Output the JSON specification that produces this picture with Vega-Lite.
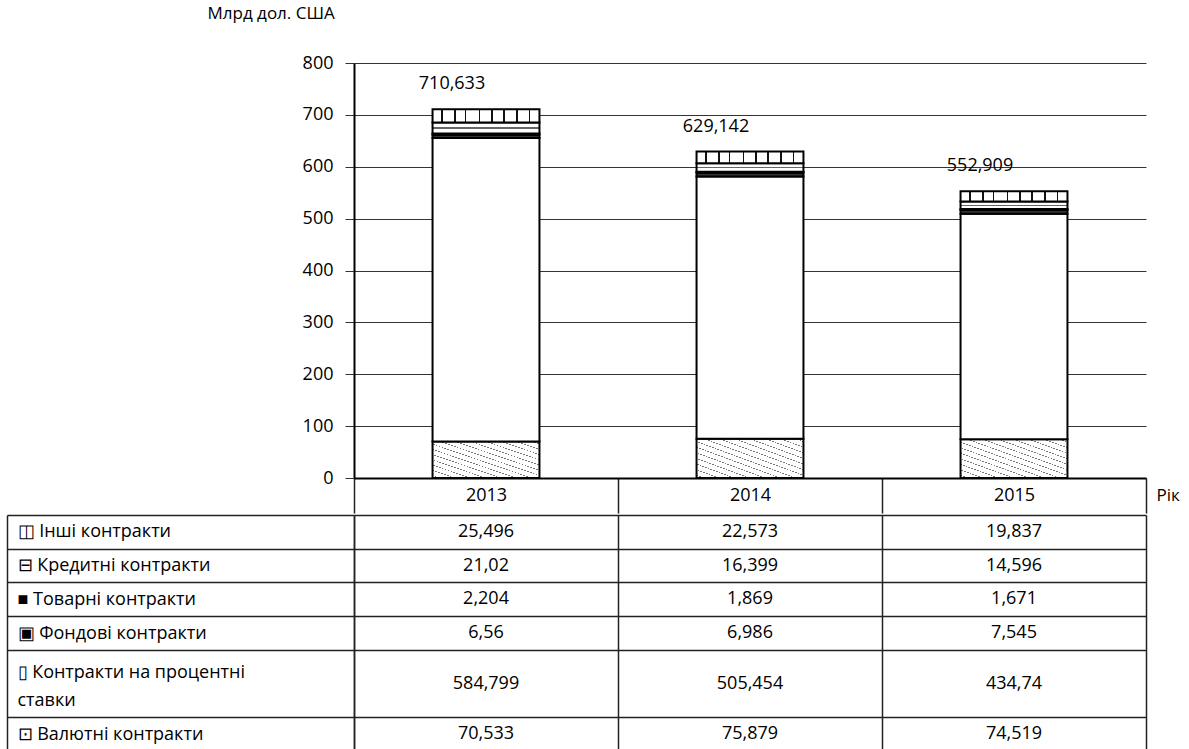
{
  "$schema": "https://vega.github.io/schema/vega-lite/v6.json",
  "padding": {"left": 6, "top": 4, "right": 0, "bottom": 0},
  "spacing": 0,
  "datasets": {
    "rows": [
      {"year": "2013", "cat": "Валютні контракти", "k": 1, "v": 70.533},
      {"year": "2013", "cat": "Контракти на процентні ставки", "k": 2, "v": 584.799},
      {"year": "2013", "cat": "Фондові контракти", "k": 3, "v": 6.56},
      {"year": "2013", "cat": "Товарні контракти", "k": 4, "v": 2.204},
      {"year": "2013", "cat": "Кредитні контракти", "k": 5, "v": 21.02},
      {"year": "2013", "cat": "Інші контракти", "k": 6, "v": 25.496},
      {"year": "2014", "cat": "Валютні контракти", "k": 1, "v": 75.879},
      {"year": "2014", "cat": "Контракти на процентні ставки", "k": 2, "v": 505.454},
      {"year": "2014", "cat": "Фондові контракти", "k": 3, "v": 6.986},
      {"year": "2014", "cat": "Товарні контракти", "k": 4, "v": 1.869},
      {"year": "2014", "cat": "Кредитні контракти", "k": 5, "v": 16.399},
      {"year": "2014", "cat": "Інші контракти", "k": 6, "v": 22.573},
      {"year": "2015", "cat": "Валютні контракти", "k": 1, "v": 74.519},
      {"year": "2015", "cat": "Контракти на процентні ставки", "k": 2, "v": 434.74},
      {"year": "2015", "cat": "Фондові контракти", "k": 3, "v": 7.545},
      {"year": "2015", "cat": "Товарні контракти", "k": 4, "v": 1.671},
      {"year": "2015", "cat": "Кредитні контракти", "k": 5, "v": 14.596},
      {"year": "2015", "cat": "Інші контракти", "k": 6, "v": 19.837}
    ],
    "totals": [
      {"year": "2013", "total": 710.633},
      {"year": "2014", "total": 629.142},
      {"year": "2015", "total": 552.909}
    ]
  },
  "vconcat": [
    {
      "width": 792,
      "height": 415,
      "view": {"stroke": null},
      "layer": [
        {
          "data": {"name": "rows"},
          "mark": {"type": "bar", "width": {"band": 0.405}, "stroke": "#000", "strokeWidth": 2},
          "encoding": {
            "x": {
              "field": "year", "type": "nominal",
              "scale": {"paddingInner": 0, "paddingOuter": 0},
              "axis": {
                "title": "Рік", "titleAngle": 0, "titleX": 802, "titleY": 17,
                "titleAlign": "left", "titleBaseline": "middle",
                "labelAngle": 0, "labelBaseline": "middle", "labelPadding": -18,
                "tickBand": "extent", "tickSize": 35, "tickColor": "#222", "tickWidth": 1.5,
                "domainColor": "#000", "domainWidth": 2, "grid": false
              }
            },
            "y": {
              "field": "v", "type": "quantitative", "stack": "zero",
              "scale": {"domain": [0, 800], "nice": false},
              "axis": {
                "title": "Млрд дол. США", "titleAngle": 0, "titleX": -147, "titleY": -50,
                "titleAlign": "left", "titleBaseline": "middle",
                "values": [0, 100, 200, 300, 400, 500, 600, 700, 800], "format": "d",
                "grid": true, "gridColor": "#333", "gridWidth": 1,
                "tickSize": 9, "tickColor": "#333", "tickWidth": 1, "labelPadding": 12,
                "domainColor": "#000", "domainWidth": 2
              }
            },
            "detail": {"field": "cat"},
            "order": {"field": "k", "type": "quantitative"},
            "fill": {
              "condition": [
                {"test": "datum.k === 1", "value": {
                  "gradient": "linear", "x1": 0, "y1": 1, "x2": 1, "y2": 0,
                  "stops": [
                    {"offset": 0, "color": "#fff"},
                    {"offset": 0.030, "color": "#fff"}, {"offset": 0.030, "color": "#777"}, {"offset": 0.038, "color": "#777"}, {"offset": 0.038, "color": "#fff"},
                    {"offset": 0.101, "color": "#fff"}, {"offset": 0.101, "color": "#777"}, {"offset": 0.109, "color": "#777"}, {"offset": 0.109, "color": "#fff"},
                    {"offset": 0.173, "color": "#fff"}, {"offset": 0.173, "color": "#777"}, {"offset": 0.181, "color": "#777"}, {"offset": 0.181, "color": "#fff"},
                    {"offset": 0.244, "color": "#fff"}, {"offset": 0.244, "color": "#777"}, {"offset": 0.252, "color": "#777"}, {"offset": 0.252, "color": "#fff"},
                    {"offset": 0.316, "color": "#fff"}, {"offset": 0.316, "color": "#777"}, {"offset": 0.324, "color": "#777"}, {"offset": 0.324, "color": "#fff"},
                    {"offset": 0.387, "color": "#fff"}, {"offset": 0.387, "color": "#777"}, {"offset": 0.395, "color": "#777"}, {"offset": 0.395, "color": "#fff"},
                    {"offset": 0.459, "color": "#fff"}, {"offset": 0.459, "color": "#777"}, {"offset": 0.467, "color": "#777"}, {"offset": 0.467, "color": "#fff"},
                    {"offset": 0.530, "color": "#fff"}, {"offset": 0.530, "color": "#777"}, {"offset": 0.538, "color": "#777"}, {"offset": 0.538, "color": "#fff"},
                    {"offset": 0.601, "color": "#fff"}, {"offset": 0.601, "color": "#777"}, {"offset": 0.609, "color": "#777"}, {"offset": 0.609, "color": "#fff"},
                    {"offset": 0.673, "color": "#fff"}, {"offset": 0.673, "color": "#777"}, {"offset": 0.681, "color": "#777"}, {"offset": 0.681, "color": "#fff"},
                    {"offset": 0.744, "color": "#fff"}, {"offset": 0.744, "color": "#777"}, {"offset": 0.752, "color": "#777"}, {"offset": 0.752, "color": "#fff"},
                    {"offset": 0.816, "color": "#fff"}, {"offset": 0.816, "color": "#777"}, {"offset": 0.824, "color": "#777"}, {"offset": 0.824, "color": "#fff"},
                    {"offset": 0.887, "color": "#fff"}, {"offset": 0.887, "color": "#777"}, {"offset": 0.895, "color": "#777"}, {"offset": 0.895, "color": "#fff"},
                    {"offset": 0.959, "color": "#fff"}, {"offset": 0.959, "color": "#777"}, {"offset": 0.967, "color": "#777"}, {"offset": 0.967, "color": "#fff"},
                    {"offset": 1, "color": "#fff"}
                  ]
                }},
                {"test": "datum.k === 3", "value": "#333"},
                {"test": "datum.k === 4", "value": "#000"},
                {"test": "datum.k === 5", "value": {
                  "gradient": "linear", "x1": 0, "y1": 0, "x2": 0, "y2": 1,
                  "stops": [
                    {"offset": 0, "color": "#fff"}, {"offset": 0.42, "color": "#fff"},
                    {"offset": 0.42, "color": "#666"}, {"offset": 0.58, "color": "#666"},
                    {"offset": 0.58, "color": "#fff"}, {"offset": 1, "color": "#fff"}
                  ]
                }},
                {"test": "datum.k === 6", "value": {
                  "gradient": "linear", "x1": 0, "y1": 0, "x2": 1, "y2": 0,
                  "stops": [
                    {"offset": 0, "color": "#fff"},
                    {"offset": 0.08, "color": "#fff"}, {"offset": 0.08, "color": "#111"}, {"offset": 0.095, "color": "#111"}, {"offset": 0.095, "color": "#fff"},
                    {"offset": 0.2, "color": "#fff"}, {"offset": 0.2, "color": "#111"}, {"offset": 0.215, "color": "#111"}, {"offset": 0.215, "color": "#fff"},
                    {"offset": 0.3, "color": "#fff"}, {"offset": 0.3, "color": "#111"}, {"offset": 0.315, "color": "#111"}, {"offset": 0.315, "color": "#fff"},
                    {"offset": 0.43, "color": "#fff"}, {"offset": 0.43, "color": "#111"}, {"offset": 0.445, "color": "#111"}, {"offset": 0.445, "color": "#fff"},
                    {"offset": 0.55, "color": "#fff"}, {"offset": 0.55, "color": "#111"}, {"offset": 0.565, "color": "#111"}, {"offset": 0.565, "color": "#fff"},
                    {"offset": 0.66, "color": "#fff"}, {"offset": 0.66, "color": "#111"}, {"offset": 0.675, "color": "#111"}, {"offset": 0.675, "color": "#fff"},
                    {"offset": 0.78, "color": "#fff"}, {"offset": 0.78, "color": "#111"}, {"offset": 0.795, "color": "#111"}, {"offset": 0.795, "color": "#fff"},
                    {"offset": 0.9, "color": "#fff"}, {"offset": 0.9, "color": "#111"}, {"offset": 0.915, "color": "#111"}, {"offset": 0.915, "color": "#fff"},
                    {"offset": 1, "color": "#fff"}
                  ]
                }}
              ],
              "value": "#fff"
            }
          }
        },
        {
          "data": {"name": "totals"},
          "mark": {"type": "text", "dx": -34, "dy": -25, "baseline": "middle"},
          "encoding": {
            "x": {"field": "year", "type": "nominal"},
            "y": {"field": "total", "type": "quantitative"},
            "text": {"field": "total", "type": "quantitative", "format": "~f"}
          }
        }
      ]
    },
    {
      "width": 792,
      "height": 236,
      "view": {"stroke": null},
      "resolve": {"axis": {"y": "independent"}},
      "layer": [
        {
          "data": {"name": "rows"},
          "transform": [{"filter": "datum.cat !== 'Контракти на процентні ставки'"}],
          "mark": {"type": "text", "baseline": "middle"},
          "encoding": {
            "x": {
              "field": "year", "type": "nominal",
              "scale": {"paddingInner": 0, "paddingOuter": 0},
              "axis": {"orient": "top", "title": null, "labels": false, "ticks": false, "domain": false,
                       "grid": true, "tickBand": "extent", "gridColor": "#222", "gridWidth": 1.5}
            },
            "y": {
              "field": "cat", "type": "nominal",
              "scale": {"domain": ["Інші контракти", "Кредитні контракти", "Товарні контракти", "Фондові контракти", "Контракти на процентні ставки", "ставки", "Валютні контракти"], "paddingInner": 0, "paddingOuter": 0},
              "axis": {
                "orient": "left", "title": null, "tickBand": "extent", "tickSize": 347,
                "tickColor": {"condition": {"test": "datum.value === 'Контракти на процентні ставки'", "value": "transparent"}, "value": "#222"},
                "tickWidth": 1.5,
                "grid": true,
                "gridColor": {"condition": {"test": "datum.value === 'Контракти на процентні ставки'", "value": "transparent"}, "value": "#222"},
                "gridWidth": 1.5,
                "domainColor": "#222", "domainWidth": 1.5,
                "labelAlign": "left", "labelPadding": -10, "labelLimit": 0,
                "labelFontSize": {"condition": {"test": "indexof(['Інші контракти', 'Кредитні контракти', 'Товарні контракти', 'Фондові контракти', 'Контракти на процентні ставки', 'ставки', 'Валютні контракти'], datum.value) < 0", "value": 0}, "value": 18},
                "labelOffset": {"condition": {"test": "datum.value === 'Контракти на процентні ставки'", "value": 6}, "value": 0},
                "labelExpr": "datum.value === 'Інші контракти' ? '◫ Інші контракти' : datum.value === 'Кредитні контракти' ? '⊟ Кредитні контракти' : datum.value === 'Товарні контракти' ? '■ Товарні контракти' : datum.value === 'Фондові контракти' ? '▣ Фондові контракти' : datum.value === 'Контракти на процентні ставки' ? '▯ Контракти на процентні' : datum.value === 'ставки' ? '\u00a0\u00a0\u00a0\u00a0ставки' : datum.value === 'Валютні контракти' ? '⊡ Валютні контракти' : ''"
              }
            },
            "text": {"field": "v", "type": "quantitative", "format": "~f"}
          }
        },
        {
          "data": {"name": "rows"},
          "transform": [{"filter": "datum.cat === 'Контракти на процентні ставки'"}],
          "mark": {"type": "text", "baseline": "middle"},
          "encoding": {
            "x": {"field": "year", "type": "nominal"},
            "y": {
              "field": "cat", "type": "nominal", "bandPosition": 1,
              "scale": {"domain": ["Інші контракти", "Кредитні контракти", "Товарні контракти", "Фондові контракти", "Контракти на процентні ставки", "ставки", "Валютні контракти"]},
              "axis": {"orient": "left", "offset": 347, "title": null, "labels": false, "ticks": false, "grid": false,
                       "domain": true, "domainColor": "#222", "domainWidth": 1.5}
            },
            "text": {"field": "v", "type": "quantitative", "format": "~f"}
          }
        }
      ]
    }
  ],
  "config": {
    "font": "Open Sans",
    "locale": {"number": {"decimal": ",", "thousands": "\u00a0", "grouping": [3], "currency": ["", ""]}},
    "axis": {"labelFont": "Open Sans", "labelFontSize": 18, "labelColor": "#000", "titleFont": "Open Sans", "titleFontSize": 17, "titleFontWeight": "normal", "titleColor": "#000"},
    "text": {"font": "Open Sans", "fontSize": 18, "color": "#000"}
  }
}
